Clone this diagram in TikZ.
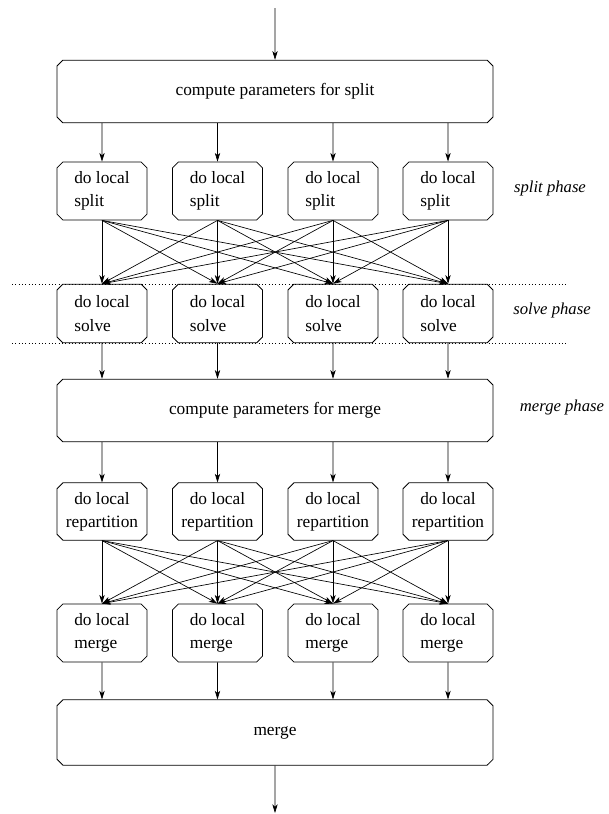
\documentclass[tikz,border=0pt]{standalone}
\usepackage{fontspec}
\setmainfont{Liberation Serif}
\usetikzlibrary{shapes.misc,arrows.meta}
\begin{document}
\begin{tikzpicture}[x=0.75pt,y=-0.75pt,
  box/.style={chamfered rectangle, chamfered rectangle xsep=2.2pt,
    chamfered rectangle ysep=2.2pt, draw, line width=0.6pt, inner sep=0pt,
    font=\fontsize{13}{17.5}\selectfont, align=center},
  wide/.style={box, minimum width=327pt},
  small/.style={box, minimum width=67.5pt, align=left},
  flow/.style={draw, line width=0.5pt, -{Stealth[length=6.5pt,width=4pt,inset=1.8pt]}},
  phase/.style={font=\fontsize{12.5}{14}\selectfont\itshape}]
\useasboundingbox (0,0) rectangle (609,814);

% global steps
\node[wide, minimum height=47pt] (cps) at (275,91.5) {compute parameters for split};
\node[wide, minimum height=47pt] (cpm) at (275,410.5) {compute parameters for merge};
\node[wide, minimum height=49pt] (fin) at (275,732.5) {merge};

\coordinate (in) at (275,8);
\coordinate (out) at (275,813);
\draw[flow] (in) -- (cps);
\draw[flow] (fin) -- (out);

% per-processor steps
\foreach \i/\x in {1/102,2/217.5,3/333,4/448}{
  \node[small, minimum height=43.5pt] (sp\i) at (\x,191) {do local\\split};
  \node[small, minimum height=44pt] (so\i) at (\x,313.5) {do local\\solve};
  \node[small, minimum height=43pt, align=center] (rp\i) at (\x,511.5) {do local\\repartition};
  \node[small, minimum height=43.5pt] (mg\i) at (\x,633) {do local\\merge};
}

\foreach \i in {1,...,4}{
  \draw[flow] (cps.south -| sp\i) -- (sp\i);
  \draw[flow] (so\i) -- (cpm.north -| so\i);
  \draw[flow] (cpm.south -| rp\i) -- (rp\i);
  \draw[flow] (mg\i) -- (fin.north -| mg\i);
  \foreach \j in {1,...,4}{
    \draw[flow] (sp\i.south) -- (so\j.north);
    \draw[flow] (rp\i.south) -- (mg\j.north);
  }
}

% phase boundaries
\coordinate (dl1) at (12,284);
\coordinate (dr1) at (567,284);
\coordinate (dl2) at (12,343);
\coordinate (dr2) at (567,343);
\draw[dotted, line width=0.5pt] (dl1) -- (dr1);
\draw[dotted, line width=0.5pt] (dl2) -- (dr2);

\node[phase] (ph1) at (550,188) {split phase};
\node[phase] (ph2) at (552,310) {solve phase};
\node[phase] (ph3) at (562,407) {merge phase};
\end{tikzpicture}
\end{document}
